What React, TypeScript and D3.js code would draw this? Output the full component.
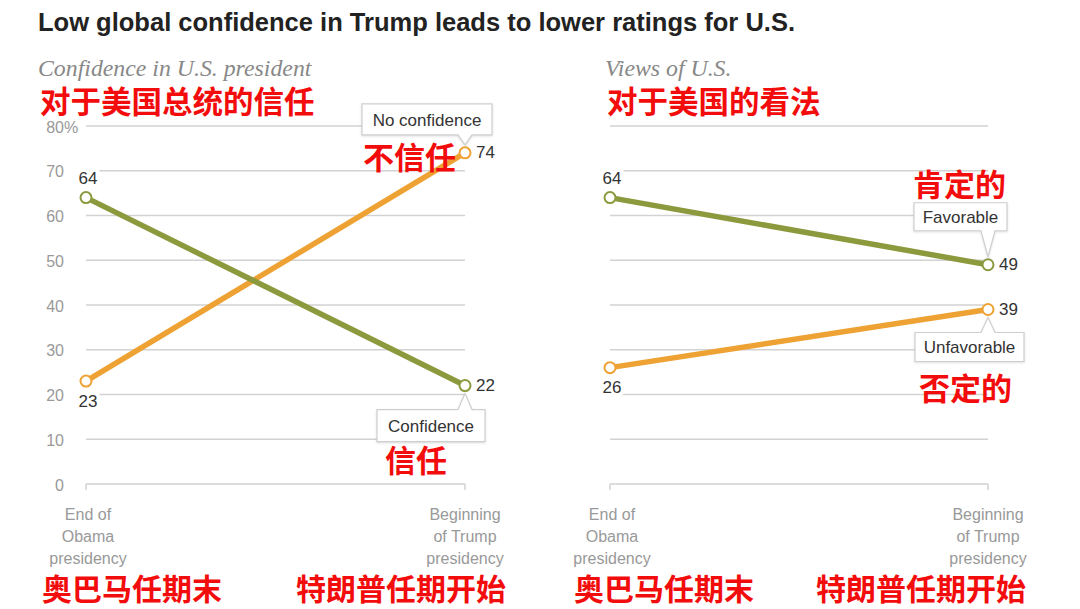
import * as React from 'react';
import * as d3 from 'd3';

const periods = ['End of Obama presidency', 'Beginning of Trump presidency'];
const periodLines = [['End of', 'Obama', 'presidency'], ['Beginning', 'of Trump', 'presidency']];
const periodsZh = ['奥巴马任期末', '特朗普任期开始'];
const confidence = [64, 22];
const noConfidence = [23, 74];
const favorable = [64, 49];
const unfavorable = [26, 39];
const yTicks = [0, 10, 20, 30, 40, 50, 60, 70, 80];

const GREEN = '#8c9a3d';
const ORANGE = '#eea233';
const RED = '#f20c0c';
const SANS = '"Liberation Sans", Arial, sans-serif';
const CJK = '"Noto Sans CJK SC", sans-serif';

const y = d3.scaleLinear().domain([0, 80]).range([484, 126]);

type Callout = { text: string; w: number; dx: number; dy: number; h: number; above: boolean };

const Series: React.FC<{
  x: d3.ScalePoint<string>;
  values: number[];
  color: string;
  startBelow: boolean;
  callout: Callout;
}> = ({ x, values, color, startBelow, callout }) => {
  const line = d3.line<number>()
    .x((_d, i) => x(periods[i])!)
    .y(d => y(d));
  const px = x(periods[1])!;
  const py = y(values[1]);
  const bx = px + callout.dx;
  const by = py + callout.dy;
  const bw = callout.w;
  const bh = callout.h;
  // box with a small pointer towards the end point
  const tip = callout.above ? py - 8 : py + 8;
  const edge = callout.above ? by + bh : by;
  const path = callout.above
    ? `M${bx},${by} H${bx + bw} V${edge} H${px + 7} L${px},${tip} L${px - 7},${edge} H${bx} Z`
    : `M${bx},${by + bh} H${bx + bw} V${edge} H${px + 7} L${px},${tip} L${px - 7},${edge} H${bx} Z`;
  return (
    <g>
      <path d={line(values)!} fill="none" stroke={color} strokeWidth={5.5} />
      {values.map((d, i) => (
        <circle key={i} cx={x(periods[i])} cy={y(d)} r={5.5} fill="#fff" stroke={color} strokeWidth={2} />
      ))}
      <text
        x={x(periods[0])! + 2}
        y={y(values[0]) + (startBelow ? 20 : -19)}
        textAnchor="middle"
        dominantBaseline="central"
        fontFamily={SANS}
        fontSize={17}
        fill="#333"
        stroke="#fff"
        strokeWidth={8}
        paintOrder="stroke"
      >
        {values[0]}
      </text>
      <text x={px + 11} y={py} dominantBaseline="central" fontFamily={SANS} fontSize={17} fill="#333">
        {values[1]}
      </text>
      <path d={path} fill="#fff" stroke="#cfcfcf" strokeWidth={1.2} style={{ filter: 'drop-shadow(0px 1px 1px rgba(0,0,0,0.12))' }} />
      <text x={bx + bw / 2} y={by + bh / 2 + 1} textAnchor="middle" dominantBaseline="central" fontFamily={SANS} fontSize={17} fill="#333">
        {callout.text}
      </text>
    </g>
  );
};

const Panel: React.FC<{
  range: [number, number];
  showAxis: boolean;
  subtitle: string;
  subtitleZh: string;
  titleX: number;
  zhX: [number, number];
  green: number[];
  orange: number[];
  greenCallout: Callout;
  orangeCallout: Callout;
}> = props => {
  const x = d3.scalePoint<string>().domain(periods).range(props.range);
  const [x0, x1] = props.range;
  return (
    <g>
      <text x={props.titleX} y={68} dominantBaseline="central" fontFamily='"Liberation Serif", serif' fontStyle="italic" fontSize={23.8} fill="#888">
        {props.subtitle}
      </text>
      <text x={props.titleX + 2} y={100} dominantBaseline="central" fontFamily={CJK} fontWeight={700} fontSize={30.5} fill={RED}>
        {props.subtitleZh}
      </text>
      {yTicks.map(t => (
        <g key={t}>
          <line x1={x0} x2={x1} y1={y(t)} y2={y(t)} stroke="#d2d2d2" strokeWidth={1.5} />
          {props.showAxis && (
            <text x={64} y={y(t) + 1} textAnchor="end" dominantBaseline="central" fontFamily={SANS} fontSize={16} fill="#999">
              {t}
            </text>
          )}
          {props.showAxis && t === 80 && (
            <text x={64} y={y(t) + 1} dominantBaseline="central" fontFamily={SANS} fontSize={16} fill="#999">%</text>
          )}
        </g>
      ))}
      {periods.map(p => (
        <line key={p} x1={x(p)} x2={x(p)} y1={y(0)} y2={y(0) + 6} stroke="#d2d2d2" strokeWidth={1.5} />
      ))}
      {periods.map((p, i) => (
        <text key={p} textAnchor="middle" fontFamily={SANS} fontSize={16} fill="#999">
          {periodLines[i].map((l, j) => (
            <tspan key={j} x={x(p)! + (i === 0 ? 2 : 0)} y={520 + j * 22}>{l}</tspan>
          ))}
        </text>
      ))}
      <Series x={x} values={props.orange} color={ORANGE} startBelow callout={props.orangeCallout} />
      <Series x={x} values={props.green} color={GREEN} startBelow={false} callout={props.greenCallout} />
      {periodsZh.map((t, i) => (
        <text key={t} x={props.zhX[i]} y={587} dominantBaseline="central" fontFamily={CJK} fontWeight={700} fontSize={30} fill={RED}>
          {t}
        </text>
      ))}
    </g>
  );
};

const App: React.FC = () => (
  <svg width={1080} height={609} style={{ position: 'absolute', left: 0, top: 0, background: '#fff' }}>
    <text x={38} y={22} dominantBaseline="central" fontFamily={SANS} fontWeight={700} fontSize={25} fill="#222" textLength={757} lengthAdjust="spacingAndGlyphs">
      Low global confidence in Trump leads to lower ratings for U.S.
    </text>
    <Panel
      range={[86, 465]}
      showAxis
      subtitle="Confidence in U.S. president"
      subtitleZh="对于美国总统的信任"
      titleX={38}
      zhX={[42, 296]}
      green={confidence}
      orange={noConfidence}
      greenCallout={{ text: 'Confidence', w: 108, h: 32, dx: -88, dy: 24, above: false }}
      orangeCallout={{ text: 'No confidence', w: 130, h: 31, dx: -103, dy: -49, above: true }}
    />
    <Panel
      range={[610, 988]}
      showAxis={false}
      subtitle="Views of U.S."
      subtitleZh="对于美国的看法"
      titleX={605}
      zhX={[574, 816]}
      green={favorable}
      orange={unfavorable}
      greenCallout={{ text: 'Favorable', w: 93, h: 28, dx: -74, dy: -62, above: true }}
      orangeCallout={{ text: 'Unfavorable', w: 109, h: 29, dx: -73, dy: 23, above: false }}
    />
    <text x={363} y={155} dominantBaseline="central" fontFamily={CJK} fontWeight={700} fontSize={31} fill={RED}>不信任</text>
    <text x={385} y={458} dominantBaseline="central" fontFamily={CJK} fontWeight={700} fontSize={31} fill={RED}>信任</text>
    <text x={913} y={182} dominantBaseline="central" fontFamily={CJK} fontWeight={700} fontSize={31} fill={RED}>肯定的</text>
    <text x={919} y={386} dominantBaseline="central" fontFamily={CJK} fontWeight={700} fontSize={31} fill={RED}>否定的</text>
  </svg>
);

export default App;
